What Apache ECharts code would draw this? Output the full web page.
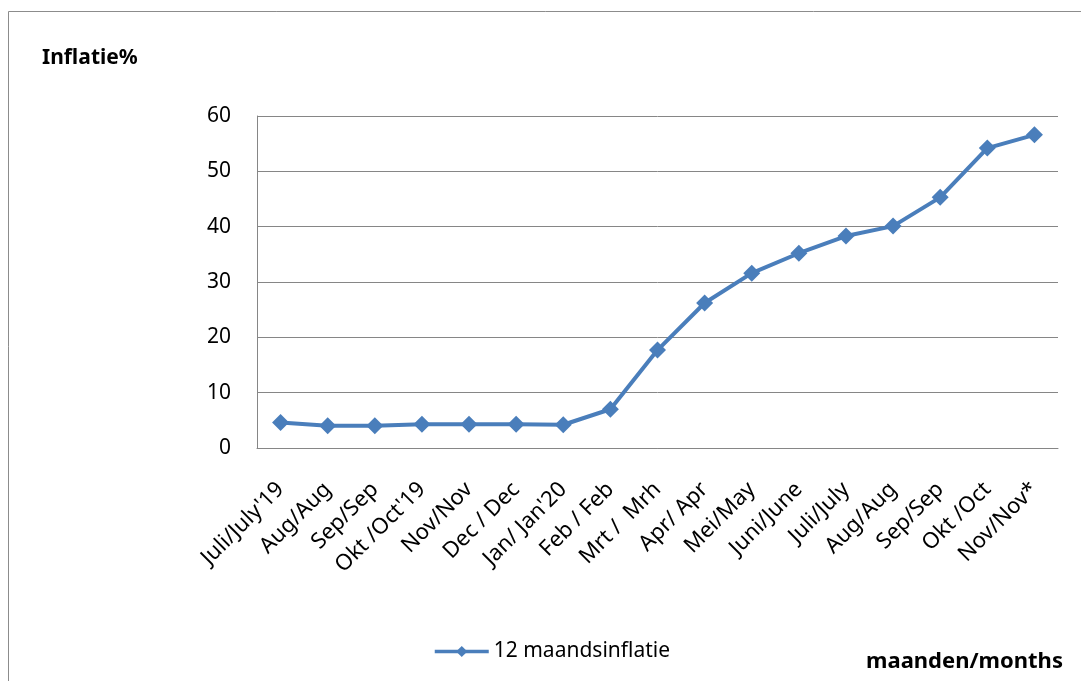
<!DOCTYPE html>
<html>
<head>
<meta charset="utf-8">
<script src="https://cdn.jsdelivr.net/npm/echarts@6/dist/echarts.min.js"></script>
<style>
html,body{margin:0;padding:0;background:#fff;}
#c{width:1081px;height:681px;}
</style>
</head>
<body>
<div id="c"></div>
<script>
const categories = ["Juli/July'19","Aug/Aug","Sep/Sep","Okt /Oct'19","Nov/Nov","Dec / Dec","Jan/ Jan'20","Feb / Feb","Mrt /  Mrh","Apr/ Apr","Mei/May","Juni/June","Juli/July","Aug/Aug","Sep/Sep","Okt /Oct","Nov/Nov*"];
const inflation = [4.6,4.0,4.0,4.3,4.3,4.3,4.2,7.0,17.7,26.2,31.6,35.2,38.3,40.1,45.3,54.2,56.6];
const seriesName = "12 maandsinflatie";
const yTitle = "Inflatie%";
const xTitle = "maanden/months";

const FONT = "Noto Sans";
const chart = echarts.init(document.getElementById('c'));
chart.setOption({
  animation:false,
  backgroundColor:'#fff',
  textStyle:{fontFamily:FONT},
  graphic:[
    {type:'rect',shape:{x:8.5,y:11.5,width:1100,height:700},style:{fill:'none',stroke:'#8c8c8c',lineWidth:1}},
    {type:'text',left:42,top:48,style:{text:yTitle,font:'bold 21px "Noto Sans"',fill:'#000'}},
    {type:'text',left:866,top:651,style:{text:xTitle,font:'bold 22px "Noto Sans"',fill:'#000'}}
  ],
  legend:{
    data:[seriesName],
    left:428, top:636,
    itemWidth:54, itemHeight:14, itemGap:5,
    lineStyle:{width:3.5},
    textStyle:{fontSize:21,color:'#000',fontFamily:FONT}
  },
  grid:{left:257,right:23,top:116,bottom:233},
  xAxis:{
    type:'category',
    data:categories,
    boundaryGap:true,
    axisLine:{lineStyle:{color:'#868686',width:1}},
    axisTick:{show:false},
    axisLabel:{rotate:45,interval:0,fontSize:22,color:'#000',fontFamily:FONT,margin:38}
  },
  yAxis:{
    type:'value',min:0,max:60,interval:10,
    axisLine:{show:true,lineStyle:{color:'#868686',width:1}},
    axisTick:{show:false},
    splitLine:{lineStyle:{color:'#868686',width:1}},
    axisLabel:{fontSize:21,color:'#000',fontFamily:FONT,margin:26}
  },
  series:[{
    name:seriesName,
    type:'line',
    data:inflation,
    symbol:'diamond',
    symbolSize:17,
    itemStyle:{color:'#4a7ebb'},
    lineStyle:{color:'#4a7ebb',width:4}
  }]
});
</script>
</body>
</html>
